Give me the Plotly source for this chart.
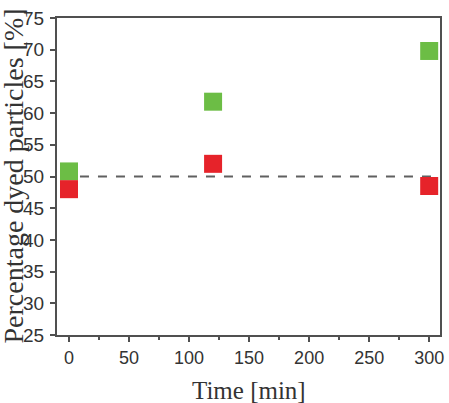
import plotly.graph_objects as go

time_min = [0, 120, 300]
green_pct = [50.8, 61.8, 69.8]
red_pct = [48.0, 52.0, 48.5]
x_ticks = [0, 50, 100, 150, 200, 250, 300]
y_ticks = [25, 30, 35, 40, 45, 50, 55, 60, 65, 70, 75]
reference_level = 50

fig = go.Figure()
fig.add_shape(type="line", xref="paper", yref="y", x0=0.06, x1=1,
              y0=reference_level, y1=reference_level,
              line=dict(color="#606060", width=2, dash="dash"), layer="below")
fig.add_trace(go.Scatter(x=time_min, y=green_pct, mode="markers",
                         marker=dict(symbol="square", size=18, color="#6cbd45",
                                     line=dict(width=0)), showlegend=False))
fig.add_trace(go.Scatter(x=time_min, y=red_pct, mode="markers",
                         marker=dict(symbol="square", size=18, color="#e6232a",
                                     line=dict(width=0)), showlegend=False))

axis_common = dict(showline=True, linecolor="#505050", linewidth=2, mirror=True,
                   ticks="outside", ticklen=5, tickwidth=1.5, tickcolor="#505050",
                   showgrid=False, zeroline=False, ticklabeloverflow="allow")

fig.update_xaxes(range=[-10, 309], tickvals=x_ticks,
                 tickfont=dict(family="Liberation Sans", size=18, color="#333333"),
                 minor=dict(ticks="outside", ticklen=3, tickcolor="#505050", dtick=25, tick0=25),
                 **axis_common)
fig.update_yaxes(range=[25, 75], tickvals=y_ticks, ticklabelstandoff=2,
                 tickfont=dict(family="Liberation Sans", size=19, color="#333333"),
                 **axis_common)

fig.add_annotation(text="Percentage dyed particles [%]", xref="paper", yref="paper",
                   x=0, y=0.5, xanchor="center", yanchor="middle", xshift=-44,
                   textangle=-90, showarrow=False,
                   font=dict(family="Liberation Serif", size=28, color="#333333"))
fig.add_annotation(text="Time [min]", xref="paper", yref="paper",
                   x=0.5, y=0, xanchor="center", yanchor="top", yshift=-40,
                   showarrow=False,
                   font=dict(family="Liberation Serif", size=25, color="#333333"))

fig.update_layout(width=449, height=403, margin=dict(l=57, r=5, t=18, b=68),
                  paper_bgcolor="white", plot_bgcolor="white")
fig.write_html("out.html")
